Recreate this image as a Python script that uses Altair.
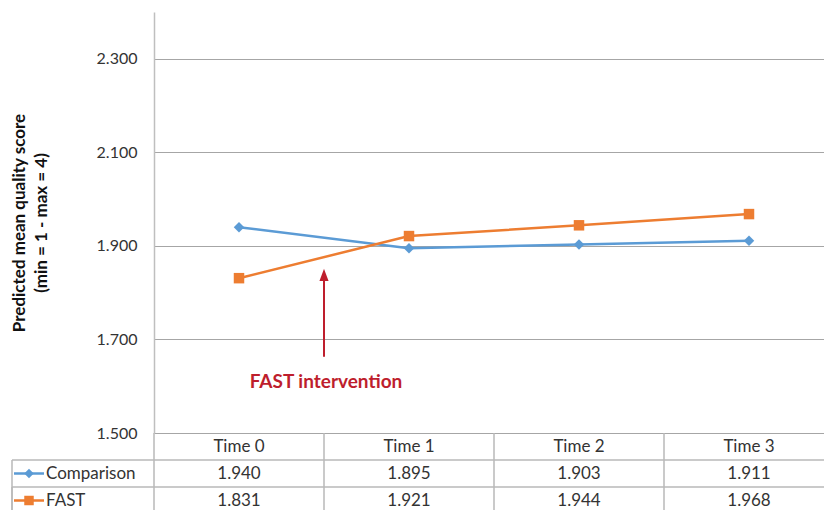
import altair as alt
import pandas as pd

times = ["Time 0", "Time 1", "Time 2", "Time 3"]
series = ["Comparison", "FAST"]
comparison = [1.940, 1.895, 1.903, 1.911]
fast = [1.831, 1.921, 1.944, 1.968]
y_ticks = [1.5, 1.7, 1.9, 2.1, 2.3]
colors = ["#5B9BD5", "#ED7D31"]
shapes = ["diamond", "square"]

rows = []
for t, c, f in zip(times, comparison, fast):
    rows.append({"time": t, "series": "Comparison", "value": c})
    rows.append({"time": t, "series": "FAST", "value": f})
df = pd.DataFrame(rows)
hdr = pd.DataFrame({"time": times, "row": ["Time"] * 4})
lab = pd.DataFrame({"series": series})
ann = pd.DataFrame({"time": ["Time 1"], "y1": [1.663], "y2": [1.83], "yh": [1.838],
                    "yt": [1.609], "label": ["FAST intervention"]})

FONT = "Lato"
TXT = "#333333"
GRID = "#a6a6a6"
TLINE = "#b8b8b8"
W, H = 670, 421
TH = 81

xs = alt.Scale(domain=times, range=[0, 680], paddingInner=0, paddingOuter=0)
ys = alt.Scale(domain=[1.5, 2.4], nice=False, zero=False)
cs = alt.Scale(domain=series, range=colors)
ss = alt.Scale(domain=series, range=shapes)
ts = alt.Scale(domain=["Time", "Comparison", "FAST"], range=[H, H + TH],
               paddingInner=0, paddingOuter=0)

base = alt.Chart(df)

lines = base.mark_line(strokeWidth=2.5).encode(
    x=alt.X("time:N", scale=xs, axis=None),
    y=alt.Y("value:Q", scale=ys,
            axis=alt.Axis(values=y_ticks, format=".3f", grid=True, gridColor=GRID,
                          gridWidth=1, ticks=False, domainColor="#bfbfbf", domainWidth=1.5,
                          labelFont=FONT, labelFontSize=16, labelColor=TXT, labelPadding=17,
                          title=["Predicted mean quality score", "(min = 1 - max = 4)"],
                          titleFont=FONT, titleFontSize=17, titleFontWeight="bold",
                          titleColor="#111111", titlePadding=46, titleLineHeight=22)),
    color=alt.Color("series:N", scale=cs, legend=None),
)
points = base.mark_point(filled=True, opacity=1, size=110).encode(
    x=alt.X("time:N", scale=xs),
    y=alt.Y("value:Q", scale=ys),
    color=alt.Color("series:N", scale=cs, legend=None),
    shape=alt.Shape("series:N", scale=ss, legend=None),
)
arrow = alt.Chart(ann).mark_rule(color="#BE1E2D", strokeWidth=2).encode(
    x=alt.X("time:N", scale=xs, bandPosition=0),
    y=alt.Y("y1:Q", scale=ys),
    y2="y2:Q",
)
head = alt.Chart(ann).mark_point(shape="M0,-1L0.75,1L-0.75,1Z", filled=True, opacity=1,
                                 color="#BE1E2D", size=150).encode(
    x=alt.X("time:N", scale=xs, bandPosition=0),
    y=alt.Y("yh:Q", scale=ys),
)
note = alt.Chart(ann).mark_text(color="#BE1E2D", font=FONT, fontSize=19, fontWeight="bold",
                                dx=2).encode(
    x=alt.X("time:N", scale=xs, bandPosition=0),
    y=alt.Y("yt:Q", scale=ys),
    text="label:N",
)
plot = alt.layer(lines, points, arrow, head, note)

# table below the plot
hdr_text = alt.Chart(hdr).mark_text(font=FONT, fontSize=17, color=TXT).encode(
    x=alt.X("time:N", scale=xs),
    y=alt.Y("row:N", scale=ts, axis=None),
    text="time:N",
)
val_text = base.mark_text(font=FONT, fontSize=17, color=TXT).encode(
    x=alt.X("time:N", scale=xs),
    y=alt.Y("series:N", scale=ts, axis=None),
    text=alt.Text("value:Q", format=".3f"),
)
vlines = alt.Chart(hdr).mark_rule(color=TLINE, strokeWidth=1.5).encode(
    x=alt.X("time:N", scale=xs, bandPosition=0),
    y=alt.value(H),
    y2=alt.value(H + 90),
)
hlines = alt.Chart(lab).mark_rule(color=TLINE, strokeWidth=1.5).encode(
    y=alt.Y("series:N", scale=ts, bandPosition=0, axis=None),
    x=alt.value(-142),
    x2=alt.value(W),
)
lborder = alt.Chart(lab).mark_rule(color=TLINE, strokeWidth=1.5).encode(
    x=alt.value(-142),
    y=alt.Y("series:N", scale=ts, bandPosition=0, axis=None),
    y2=alt.value(H + 90),
)
sym_line = alt.Chart(lab).mark_rule(strokeWidth=2.5).encode(
    x=alt.value(-140),
    x2=alt.value(-110),
    y=alt.Y("series:N", scale=ts, axis=None),
    color=alt.Color("series:N", scale=cs, legend=None),
)
sym_pt = alt.Chart(lab).mark_point(filled=True, opacity=1, size=90).encode(
    x=alt.value(-125),
    y=alt.Y("series:N", scale=ts, axis=None),
    color=alt.Color("series:N", scale=cs, legend=None),
    shape=alt.Shape("series:N", scale=ss, legend=None),
)
row_lab = alt.Chart(lab).mark_text(font=FONT, fontSize=17, color=TXT, align="left").encode(
    x=alt.value(-108),
    y=alt.Y("series:N", scale=ts, axis=None),
    text="series:N",
)
table = alt.layer(vlines, hlines, lborder, hdr_text, val_text, sym_line, sym_pt, row_lab)

chart = alt.layer(plot, table).resolve_scale(y="independent").properties(
    width=W, height=H,
    autosize=alt.AutoSizeParams(type="none"),
    padding={"left": 146, "top": 4, "right": 0, "bottom": 77},
).configure_view(stroke=None)

chart.save("out.html", embed_options={"renderer": "svg", "actions": False})
